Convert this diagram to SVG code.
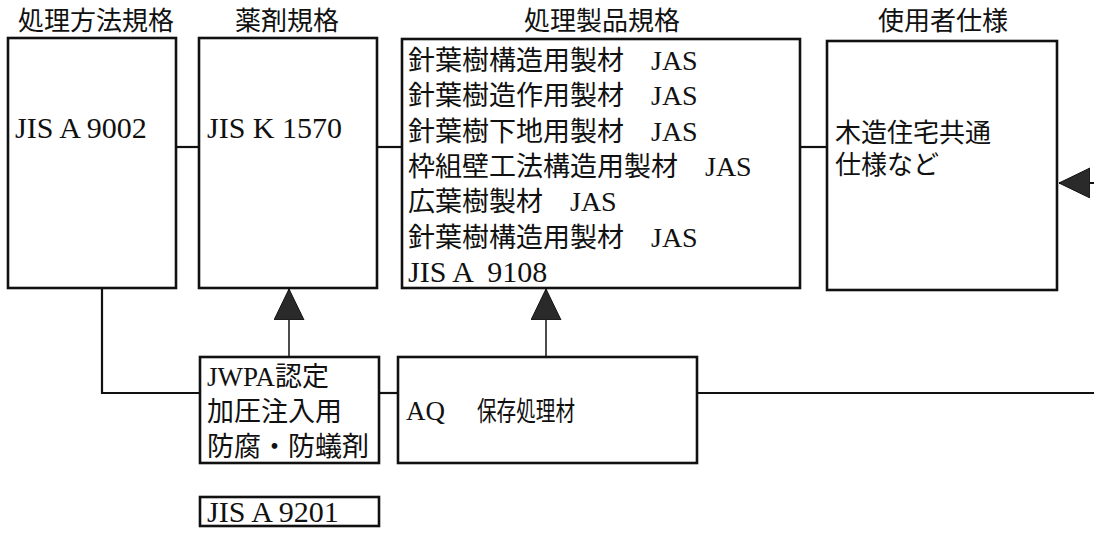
<svg xmlns="http://www.w3.org/2000/svg" width="1094" height="534" viewBox="0 0 1094 534">
<style>
.box{fill:#fff;stroke:#111;stroke-width:2.6}
.ttl{font-family:"Noto Sans CJK JP","Noto Sans",sans-serif;font-size:26px;fill:#111;text-anchor:middle}
.sans{font-family:"Liberation Sans","Noto Sans CJK JP",sans-serif;font-size:26px;fill:#111}
.min{font-family:"Liberation Serif","Noto Sans CJK JP",serif;font-size:27px;fill:#111}
.lat{font-size:30px}
.jas{font-size:28px}
.ln{fill:none;stroke:#111;stroke-width:2.2}
.st{fill:none;stroke:#111;stroke-width:1.5}
</style>
<defs>
<marker id="tri" markerUnits="userSpaceOnUse" markerWidth="34" markerHeight="32" refX="31" refY="15" orient="auto">
<path d="M0,0 L31,15 L0,30 Z" fill="#2a2a2a" stroke="#111" stroke-width="1"/>
</marker>
</defs>
<g id="connectors">
<path class="ln" d="M176 147 H199"/>
<path class="ln" d="M377 147 H402"/>
<path class="ln" d="M800 147 H827"/>
<path class="ln" d="M102 288 V393 H200"/>
<path class="ln" d="M379 393 H398"/>
<path class="st" d="M289 357 V289" marker-end="url(#tri)"/>
<path class="st" d="M546 357 V289" marker-end="url(#tri)"/>
<path class="ln" d="M697 393 H1110 V183 H1059" marker-end="url(#tri)"/>
</g>
<g id="method">
<text class="ttl" x="96" y="30">処理方法規格</text>
<rect class="box" x="8" y="38" width="168" height="250"/>
<text class="min lat" x="15" y="138">JIS A 9002</text>
</g>
<g id="chemical">
<text class="ttl" x="287" y="30">薬剤規格</text>
<rect class="box" x="199" y="38" width="178" height="250"/>
<text class="min lat" x="207" y="138">JIS K 1570</text>
</g>
<g id="product">
<text class="ttl" x="602" y="30">処理製品規格</text>
<rect class="box" x="402" y="39" width="398" height="249"/>
<text class="min" x="408" y="70">針葉樹構造用製材　<tspan class="jas">JAS</tspan></text>
<text class="min" x="408" y="105">針葉樹造作用製材　<tspan class="jas">JAS</tspan></text>
<text class="min" x="408" y="141">針葉樹下地用製材　<tspan class="jas">JAS</tspan></text>
<text class="min" x="408" y="176">枠組壁工法構造用製材　<tspan class="jas">JAS</tspan></text>
<text class="min" x="408" y="211">広葉樹製材　<tspan class="jas">JAS</tspan></text>
<text class="min" x="408" y="247">針葉樹構造用製材　<tspan class="jas">JAS</tspan></text>
<text class="min lat" x="408" y="282" xml:space="preserve">JIS A  9108</text>
</g>
<g id="user">
<text class="ttl" x="943" y="30">使用者仕様</text>
<rect class="box" x="827" y="41" width="230" height="249"/>
<text class="sans" x="835" y="142">木造住宅共通</text>
<text class="sans" x="835" y="174">仕様など</text>
</g>
<g id="jwpa">
<rect class="box" x="200" y="357" width="179" height="106"/>
<text class="min" x="207" y="386">JWPA認定</text>
<text class="min" x="207" y="421">加圧注入用</text>
<text class="min" x="207" y="456">防腐・防蟻剤</text>
</g>
<g id="aq">
<rect class="box" x="398" y="357" width="299" height="106"/>
<text class="min" x="406" y="420" font-size="29">AQ</text>
<text class="min" x="477" y="421" font-size="23" textLength="98" lengthAdjust="spacingAndGlyphs">保存処理材</text>
</g>
<g id="jisa9201">
<rect class="box" x="200" y="497" width="179" height="29"/>
<text class="min lat" x="207" y="522">JIS A 9201</text>
</g>
</svg>
